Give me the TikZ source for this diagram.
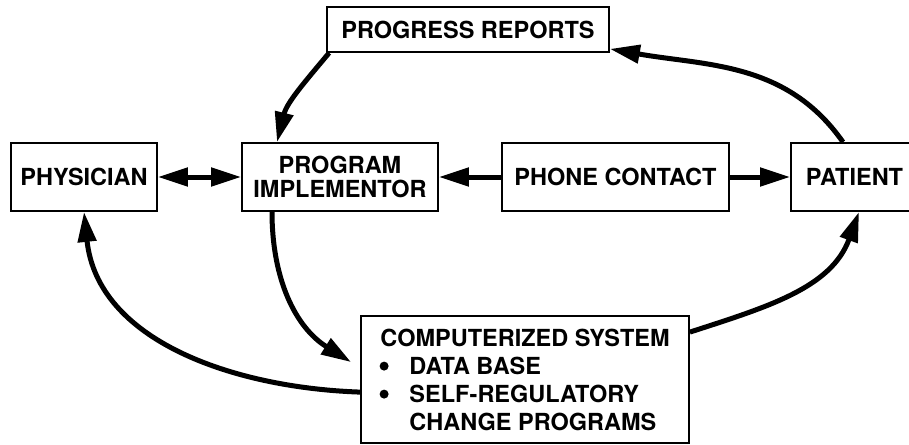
\documentclass[tikz,border=0pt]{standalone}
\usepackage{fontspec}
\setmainfont{TeX Gyre Heros}
\usepackage{tikz}
\usetikzlibrary{calc,arrows.meta}
\newcommand{\boxfont}{\fontsize{23.5}{24}\selectfont\bfseries}
\newcommand{\listfont}{\fontsize{23.5}{28}\selectfont\bfseries}
\tikzset{
  box/.style={draw, line width=1.8pt, inner sep=0pt, align=center, font=\boxfont},
  link/.style={line width=5pt, line cap=butt},
  blt/.style={fill=black},
  >={Triangle[length=30pt,width=18pt]},
}

\begin{document}
\begin{tikzpicture}[x=1pt,y=1pt]
  \useasboundingbox (0,0) rectangle (909,-444);

  \node[box, minimum width=282pt, minimum height=45pt] (rep) at (468,-29.5) {PROGRESS REPORTS};
  \node[box, minimum width=146pt, minimum height=68pt] (phys) at (84,-177) {PHYSICIAN};
  \node[box, minimum width=196pt, minimum height=68pt] (impl) at (340,-177) {PROGRAM\\IMPLEMENTOR};
  \node[box, minimum width=227pt, minimum height=68pt] (phone) at (615.5,-177) {PHONE CONTACT};
  \node[box, minimum width=127pt, minimum height=68pt] (pat) at (854.5,-177) {PATIENT};
  \node[box, font=\listfont, align=left, minimum width=328pt,
        minimum height=127pt] (comp) at (525,-379.5)
    {COMPUTERIZED SYSTEM\\
     \hspace*{29pt}DATA BASE\\
     \hspace*{29pt}SELF-REGULATORY\\
     \hspace*{29pt}CHANGE PROGRAMS};
  \fill[blt] ([xshift=24pt,yshift=-51pt]comp.north west) circle (4.5pt); % bullets
  \fill[blt] ([xshift=24pt,yshift=-79pt]comp.north west) circle (4.5pt);

  % straight links
  \draw[link,<->] (phys) -- (impl);
  \draw[link,->] (phone) -- (impl);
  \draw[link,->] (phone) -- (pat);

  % curved links
  \draw[link,->] ([xshift=3pt]rep.south west) to[out=-130,in=76] ([xshift=-63pt]impl.north);
  \draw[link,->] ([xshift=-11.5pt]pat.north) to[out=125,in=-10] ([yshift=4pt]rep.south east);
  \draw[link,->] ([xshift=-68pt]impl.south) to[out=-90,in=148] ([xshift=-9pt,yshift=-47pt]comp.north west);
  \draw[link,->] ([yshift=-77pt]comp.north west) to[out=178,in=-84] (phys.south);
  \draw[link,->] ([yshift=-17pt]comp.north east) to[out=18,in=-110] ([xshift=4.5pt]pat.south);
\end{tikzpicture}
\end{document}
